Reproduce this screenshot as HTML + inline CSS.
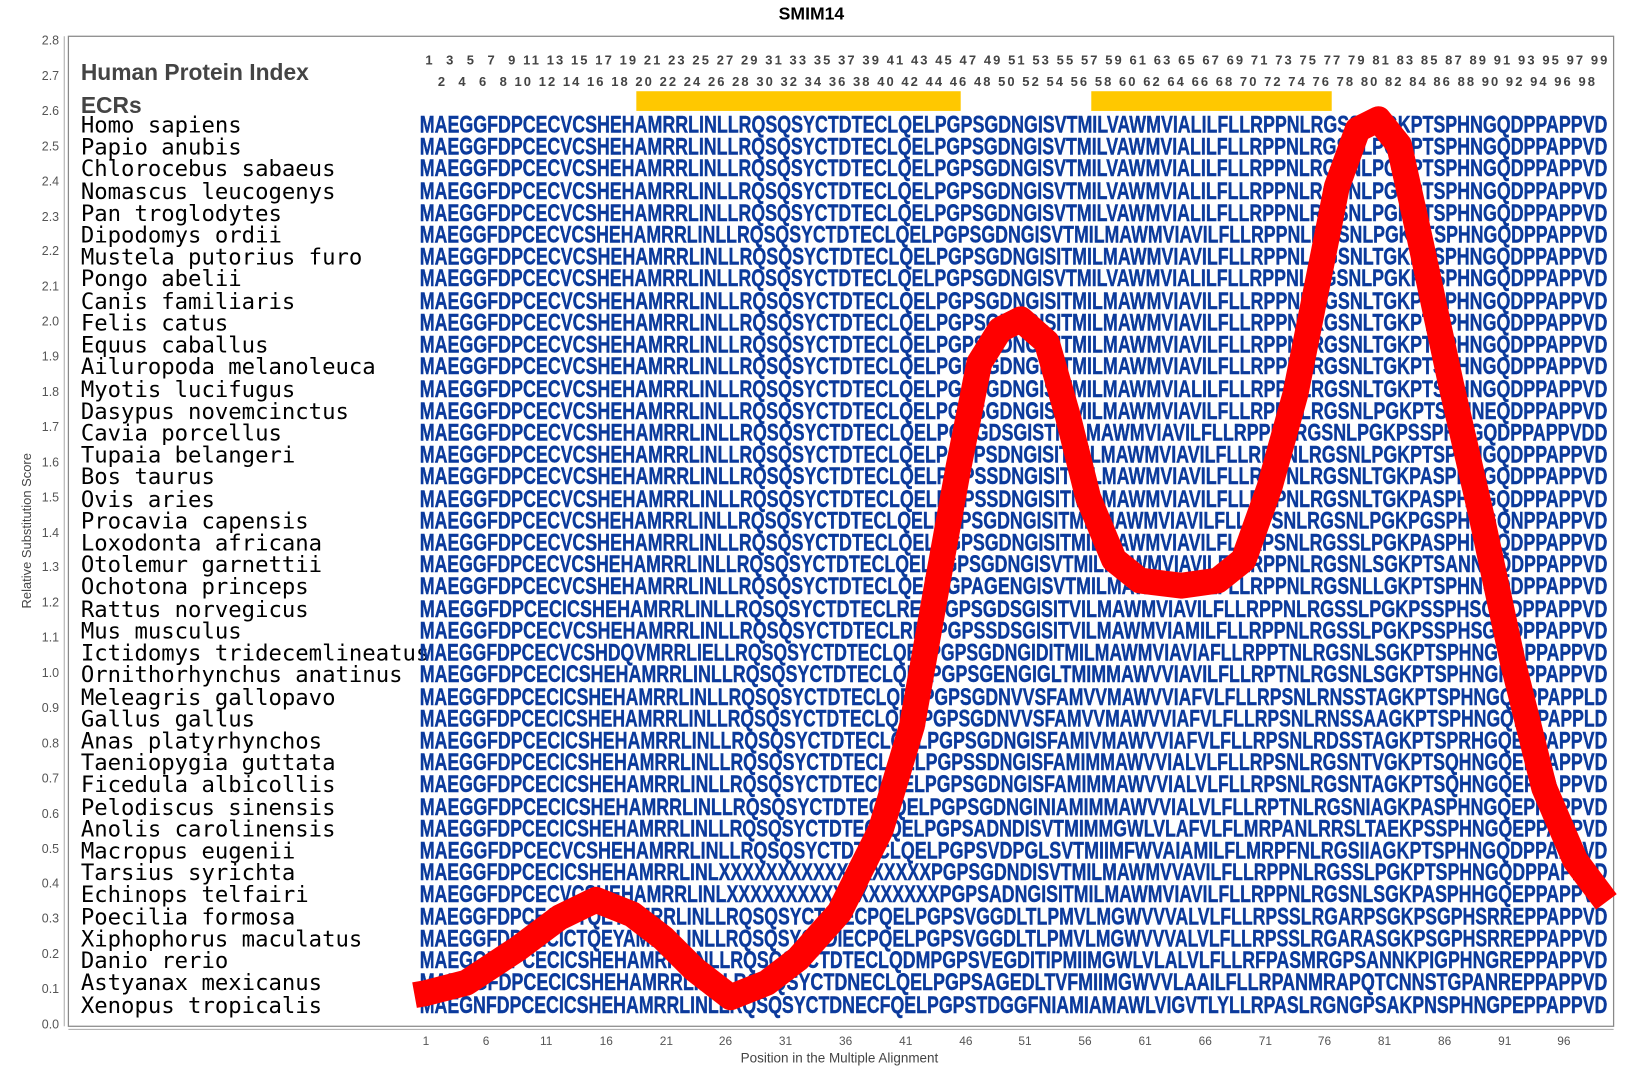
<!DOCTYPE html>
<html><head><meta charset="utf-8"><style>html,body{margin:0;padding:0;background:#fff}svg{display:block}</style></head><body>
<svg width="1625" height="1075" viewBox="0 0 1568 1037" preserveAspectRatio="none" xmlns="http://www.w3.org/2000/svg">
<rect width="1568" height="1037" fill="#fff"/>
<text x="783" y="19" font-family="Liberation Sans, sans-serif" font-weight="bold" font-size="17" text-anchor="middle" fill="#000">SMIM14</text>
<rect x="66" y="35" width="1491" height="955" fill="none" stroke="#888" stroke-width="1.2"/>
<line x1="62" y1="35" x2="62" y2="990" stroke="#aaa"/>
<line x1="66" y1="993" x2="1557" y2="993" stroke="#aaa"/>
<g font-family="Liberation Sans, sans-serif" font-size="12" fill="#555" text-anchor="end">
<text x="57" y="992">0.0</text><text x="57" y="958">0.1</text><text x="57" y="924">0.2</text><text x="57" y="890">0.3</text><text x="57" y="856">0.4</text><text x="57" y="823">0.5</text><text x="57" y="789">0.6</text><text x="57" y="755">0.7</text><text x="57" y="721">0.8</text><text x="57" y="687">0.9</text><text x="57" y="653">1.0</text><text x="57" y="619">1.1</text><text x="57" y="585">1.2</text><text x="57" y="551">1.3</text><text x="57" y="518">1.4</text><text x="57" y="484">1.5</text><text x="57" y="450">1.6</text><text x="57" y="416">1.7</text><text x="57" y="382">1.8</text><text x="57" y="348">1.9</text><text x="57" y="314">2.0</text><text x="57" y="280">2.1</text><text x="57" y="246">2.2</text><text x="57" y="213">2.3</text><text x="57" y="179">2.4</text><text x="57" y="145">2.5</text><text x="57" y="111">2.6</text><text x="57" y="77">2.7</text><text x="57" y="43">2.8</text>
</g>
<text transform="translate(30,512) rotate(-90)" font-family="Liberation Sans, sans-serif" font-size="12.5" fill="#444" text-anchor="middle">Relative Substitution Score</text>
<g font-family="Liberation Sans, sans-serif" font-size="11.5" fill="#555" text-anchor="middle">
<text x="411" y="1008">1</text><text x="469" y="1008">6</text><text x="527" y="1008">11</text><text x="585" y="1008">16</text><text x="643" y="1008">21</text><text x="700" y="1008">26</text><text x="758" y="1008">31</text><text x="816" y="1008">36</text><text x="874" y="1008">41</text><text x="932" y="1008">46</text><text x="989" y="1008">51</text><text x="1047" y="1008">56</text><text x="1105" y="1008">61</text><text x="1163" y="1008">66</text><text x="1221" y="1008">71</text><text x="1278" y="1008">76</text><text x="1336" y="1008">81</text><text x="1394" y="1008">86</text><text x="1452" y="1008">91</text><text x="1509" y="1008">96</text>
</g>
<text x="810" y="1025" font-family="Liberation Sans, sans-serif" font-size="13" fill="#444" text-anchor="middle">Position in the Multiple Alignment</text>
<g font-family="Liberation Sans, sans-serif" font-weight="bold" font-size="22" fill="#444">
<text x="78" y="77">Human Protein Index</text><text x="78" y="109">ECRs</text></g>
<g font-family="Liberation Sans, sans-serif" font-weight="bold" font-size="12.5" fill="#444">
<text x="405" y="62" textLength="1146" lengthAdjust="spacing" xml:space="preserve">&#160;1&#160;&#160;3&#160;&#160;5&#160;&#160;7&#160;&#160;9&#160;11&#160;13&#160;15&#160;17&#160;19&#160;21&#160;23&#160;25&#160;27&#160;29&#160;31&#160;33&#160;35&#160;37&#160;39&#160;41&#160;43&#160;45&#160;47&#160;49&#160;51&#160;53&#160;55&#160;57&#160;59&#160;61&#160;63&#160;65&#160;67&#160;69&#160;71&#160;73&#160;75&#160;77&#160;79&#160;81&#160;83&#160;85&#160;87&#160;89&#160;91&#160;93&#160;95&#160;97&#160;99</text>
<text x="417" y="83" textLength="1122" lengthAdjust="spacing" xml:space="preserve">&#160;2&#160;&#160;4&#160;&#160;6&#160;&#160;8&#160;10&#160;12&#160;14&#160;16&#160;18&#160;20&#160;22&#160;24&#160;26&#160;28&#160;30&#160;32&#160;34&#160;36&#160;38&#160;40&#160;42&#160;44&#160;46&#160;48&#160;50&#160;52&#160;54&#160;56&#160;58&#160;60&#160;62&#160;64&#160;66&#160;68&#160;70&#160;72&#160;74&#160;76&#160;78&#160;80&#160;82&#160;84&#160;86&#160;88&#160;90&#160;92&#160;94&#160;96&#160;98</text>
</g>
<rect x="614" y="88" width="313" height="19" fill="#ffc800"/>
<rect x="1053" y="88" width="232" height="19" fill="#ffc800"/>
<g font-family="DejaVu Sans Mono, Liberation Mono, monospace" font-size="21.5" fill="#000">
<text x="78" y="128">Homo sapiens</text><text x="78" y="149">Papio anubis</text><text x="78" y="170">Chlorocebus sabaeus</text><text x="78" y="192">Nomascus leucogenys</text><text x="78" y="213">Pan troglodytes</text><text x="78" y="234">Dipodomys ordii</text><text x="78" y="255">Mustela putorius furo</text><text x="78" y="276">Pongo abelii</text><text x="78" y="298">Canis familiaris</text><text x="78" y="319">Felis catus</text><text x="78" y="340">Equus caballus</text><text x="78" y="361">Ailuropoda melanoleuca</text><text x="78" y="383">Myotis lucifugus</text><text x="78" y="404">Dasypus novemcinctus</text><text x="78" y="425">Cavia porcellus</text><text x="78" y="446">Tupaia belangeri</text><text x="78" y="467">Bos taurus</text><text x="78" y="489">Ovis aries</text><text x="78" y="510">Procavia capensis</text><text x="78" y="531">Loxodonta africana</text><text x="78" y="552">Otolemur garnettii</text><text x="78" y="573">Ochotona princeps</text><text x="78" y="595">Rattus norvegicus</text><text x="78" y="616">Mus musculus</text><text x="78" y="637">Ictidomys tridecemlineatus</text><text x="78" y="658">Ornithorhynchus anatinus</text><text x="78" y="680">Meleagris gallopavo</text><text x="78" y="701">Gallus gallus</text><text x="78" y="722">Anas platyrhynchos</text><text x="78" y="743">Taeniopygia guttata</text><text x="78" y="764">Ficedula albicollis</text><text x="78" y="786">Pelodiscus sinensis</text><text x="78" y="807">Anolis carolinensis</text><text x="78" y="828">Macropus eugenii</text><text x="78" y="849">Tarsius syrichta</text><text x="78" y="870">Echinops telfairi</text><text x="78" y="892">Poecilia formosa</text><text x="78" y="913">Xiphophorus maculatus</text><text x="78" y="934">Danio rerio</text><text x="78" y="955">Astyanax mexicanus</text><text x="78" y="977">Xenopus tropicalis</text>
</g>
<g font-family="Liberation Sans, sans-serif" font-weight="bold" font-size="23" fill="#0b3a9c" stroke="#0b3a9c" stroke-width="0.4">
<text x="405" y="128" textLength="1146" lengthAdjust="spacingAndGlyphs">MAEGGFDPCECVCSHEHAMRRLINLLRQSQSYCTDTECLQELPGPSGDNGISVTMILVAWMVIALILFLLRPPNLRGSSLPGKPTSPHNGQDPPAPPVD</text>
<text x="405" y="149" textLength="1146" lengthAdjust="spacingAndGlyphs">MAEGGFDPCECVCSHEHAMRRLINLLRQSQSYCTDTECLQELPGPSGDNGISVTMILVAWMVIALILFLLRPPNLRGSNLPGKPTSPHNGQDPPAPPVD</text>
<text x="405" y="170" textLength="1146" lengthAdjust="spacingAndGlyphs">MAEGGFDPCECVCSHEHAMRRLINLLRQSQSYCTDTECLQELPGPSGDNGISVTMILVAWMVIALILFLLRPPNLRGSNLPGKPTSPHNGQDPPAPPVD</text>
<text x="405" y="192" textLength="1146" lengthAdjust="spacingAndGlyphs">MAEGGFDPCECVCSHEHAMRRLINLLRQSQSYCTDTECLQELPGPSGDNGISVTMILVAWMVIALILFLLRPPNLRGSNLPGKPTSPHNGQDPPAPPVD</text>
<text x="405" y="213" textLength="1146" lengthAdjust="spacingAndGlyphs">MAEGGFDPCECVCSHEHAMRRLINLLRQSQSYCTDTECLQELPGPSGDNGISVTMILVAWMVIALILFLLRPPNLRGSNLPGKPTSPHNGQDPPAPPVD</text>
<text x="405" y="234" textLength="1146" lengthAdjust="spacingAndGlyphs">MAEGGFDPCECVCSHEHAMRRLINLLRQSQSYCTDTECLQELPGPSGDNGISVTMILMAWMVIAVILFLLRPPNLRGSNLPGKPTSPHNGQDPPAPPVD</text>
<text x="405" y="255" textLength="1146" lengthAdjust="spacingAndGlyphs">MAEGGFDPCECVCSHEHAMRRLINLLRQSQSYCTDTECLQELPGPSGDNGISITMILMAWMVIAVILFLLRPPNLRGSNLTGKPTSPHNGQDPPAPPVD</text>
<text x="405" y="276" textLength="1146" lengthAdjust="spacingAndGlyphs">MAEGGFDPCECVCSHEHAMRRLINLLRQSQSYCTDTECLQELPGPSGDNGISVTMILVAWMVIALILFLLRPPNLRGSNLPGKPTSPHNGQDPPAPPVD</text>
<text x="405" y="298" textLength="1146" lengthAdjust="spacingAndGlyphs">MAEGGFDPCECVCSHEHAMRRLINLLRQSQSYCTDTECLQELPGPSGDNGISITMILMAWMVIAVILFLLRPPNLRGSNLTGKPTSPHNGQDPPAPPVD</text>
<text x="405" y="319" textLength="1146" lengthAdjust="spacingAndGlyphs">MAEGGFDPCECVCSHEHAMRRLINLLRQSQSYCTDTECLQELPGPSGDNGISITMILMAWMVIAVILFLLRPPNLRGSNLTGKPTSPHNGQDPPAPPVD</text>
<text x="405" y="340" textLength="1146" lengthAdjust="spacingAndGlyphs">MAEGGFDPCECVCSHEHAMRRLINLLRQSQSYCTDTECLQELPGPSGDNGISITMILMAWMVIAVILFLLRPPNLRGSNLTGKPTSPHNGQDPPAPPVD</text>
<text x="405" y="361" textLength="1146" lengthAdjust="spacingAndGlyphs">MAEGGFDPCECVCSHEHAMRRLINLLRQSQSYCTDTECLQELPGPSGDNGISITMILMAWMVIAVILFLLRPPNLRGSNLTGKPTSPHNGQDPPAPPVD</text>
<text x="405" y="383" textLength="1146" lengthAdjust="spacingAndGlyphs">MAEGGFDPCECVCSHEHAMRRLINLLRQSQSYCTDTECLQELPGPSGDNGISITMILMAWMVIALILFLLRPPNLRGSNLTGKPTSPHNGQDPPAPPVD</text>
<text x="405" y="404" textLength="1146" lengthAdjust="spacingAndGlyphs">MAEGGFDPCECVCSHEHAMRRLINLLRQSQSYCTDTECLQELPGPSGDNGISITMILMAWMVIAVILFLLRPPNLRGSNLPGKPTSPHNEQDPPAPPVD</text>
<text x="405" y="425" textLength="1146" lengthAdjust="spacingAndGlyphs">MAEGGFDPCECVCSHEHAMRRLINLLRQSQSYCTDTECLQELPGSGDSGISTMILMAWMVIAVILFLLRPPNLRGSNLPGKPSSPHNGQDPPAPPVDD</text>
<text x="405" y="446" textLength="1146" lengthAdjust="spacingAndGlyphs">MAEGGFDPCECVCSHEHAMRRLINLLRQSQSYCTDTECLQELPGPPSDNGISITMILMAWMVIAVILFLLRPPNLRGSNLPGKPTSPHNGQDPPAPPVD</text>
<text x="405" y="467" textLength="1146" lengthAdjust="spacingAndGlyphs">MAEGGFDPCECVCSHEHAMRRLINLLRQSQSYCTDTECLQELPGPSSDNGISITMILMAWMVIAVILFLLRPPNLRGSNLTGKPASPHNGQDPPAPPVD</text>
<text x="405" y="489" textLength="1146" lengthAdjust="spacingAndGlyphs">MAEGGFDPCECVCSHEHAMRRLINLLRQSQSYCTDTECLQELPGPSSDNGISITMILMAWMVIAVILFLLRPPNLRGSNLTGKPASPHNGQDPPAPPVD</text>
<text x="405" y="510" textLength="1146" lengthAdjust="spacingAndGlyphs">MAEGGFDPCECVCSHEHAMRRLINLLRQSQSYCTDTECLQELPGPSGDNGISITMILMAWMVIAVILFLLRPSNLRGSNLPGKPGSPHNGQNPPAPPVD</text>
<text x="405" y="531" textLength="1146" lengthAdjust="spacingAndGlyphs">MAEGGFDPCECVCSHEHAMRRLINLLRQSQSYCTDTECLQELPGPSGDNGISITMILMAWMVIAVILFLLRPSNLRGSSLPGKPASPHNGQDPPAPPVD</text>
<text x="405" y="552" textLength="1146" lengthAdjust="spacingAndGlyphs">MAEGGFDPCECVCSHEHAMRRLINLLRQSQSYCTDTECLQELPGPSGDNGISVTMILMAWMVIAVILFLLRPPNLRGSNLSGKPTSANNGQDPPAPPVD</text>
<text x="405" y="573" textLength="1146" lengthAdjust="spacingAndGlyphs">MAEGGFDPCECVCSHEHAMRRLINLLRQSQSYCTDTECLQELPGPAGENGISVTMILMAWVLIAVILFLLRPPNLRGSNLLGKPTSPHNGQDPPAPPVD</text>
<text x="405" y="595" textLength="1146" lengthAdjust="spacingAndGlyphs">MAEGGFDPCECICSHEHAMRRLINLLRQSQSYCTDTECLRELPGPSGDSGISITVILMAWMVIAVILFLLRPPNLRGSSLPGKPSSPHSGQDPPAPPVD</text>
<text x="405" y="616" textLength="1146" lengthAdjust="spacingAndGlyphs">MAEGGFDPCECVCSHEHAMRRLINLLRQSQSYCTDTECLRELPGPSSDSGISITVILMAWMVIAMILFLLRPPNLRGSSLPGKPSSPHSGQDPPAPPVD</text>
<text x="405" y="637" textLength="1146" lengthAdjust="spacingAndGlyphs">MAEGGFDPCECVCSHDQVMRRLIELLRQSQSYCTDTECLQELPGPSGDNGIDITMILMAWMVIAVIAFLLRPPTNLRGSNLSGKPTSPHNGQDPPAPPVD</text>
<text x="405" y="658" textLength="1146" lengthAdjust="spacingAndGlyphs">MAEGGFDPCECICSHEHAMRRLINLLRQSQSYCTDTECLQELPGPSGENGIGLTMIMMAWVVIAVILFLLRPTNLRGSNLSGKPTSPHNGHEPPAPPVD</text>
<text x="405" y="680" textLength="1146" lengthAdjust="spacingAndGlyphs">MAEGGFDPCECICSHEHAMRRLINLLRQSQSYCTDTECLQELPGPSGDNVVSFAMVVMAWVVIAFVLFLLRPSNLRNSSTAGKPTSPHNGQEPPAPPLD</text>
<text x="405" y="701" textLength="1146" lengthAdjust="spacingAndGlyphs">MAEGGFDPCECICSHEHAMRRLINLLRQSQSYCTDTECLQELPGPSGDNVVSFAMVVMAWVVIAFVLFLLRPSNLRNSSAAGKPTSPHNGQEPPAPPLD</text>
<text x="405" y="722" textLength="1146" lengthAdjust="spacingAndGlyphs">MAEGGFDPCECICSHEHAMRRLINLLRQSQSYCTDTECLQELPGPSGDNGISFAMIVMAWVVIAFVLFLLRPSNLRDSSTAGKPTSPRHGQEPPAPPVD</text>
<text x="405" y="743" textLength="1146" lengthAdjust="spacingAndGlyphs">MAEGGFDPCECICSHEHAMRRLINLLRQSQSYCTDTECLQELPGPSSDNGISFAMIMMAWVVIALVLFLLRPSNLRGSNTVGKPTSQHNGQEPPAPPVD</text>
<text x="405" y="764" textLength="1146" lengthAdjust="spacingAndGlyphs">MAEGGFDPCECICSHEHAMRRLINLLRQSQSYCTDTECLQELPGPSGDNGISFAMIMMAWVVIALVLFLLRPSNLRGSNTAGKPTSQHNGQEPPAPPVD</text>
<text x="405" y="786" textLength="1146" lengthAdjust="spacingAndGlyphs">MAEGGFDPCECICSHEHAMRRLINLLRQSQSYCTDTECFQELPGPSGDNGINIAMIMMAWVVIALVLFLLRPTNLRGSNIAGKPASPHNGQEPPAPPVD</text>
<text x="405" y="807" textLength="1146" lengthAdjust="spacingAndGlyphs">MAEGGFDPCECICSHEHAMRRLINLLRQSQSYCTDTECLQELPGPSADNDISVTMIMMGWLVLAFVLFLMRPANLRRSLTAEKPSSPHNGQEPPAPPVD</text>
<text x="405" y="828" textLength="1146" lengthAdjust="spacingAndGlyphs">MAEGGFDPCECVCSHEHAMRRLINLLRQSQSYCTDTECLQELPGPSVDPGLSVTMIIMFWVAIAMILFLMRPFNLRGSIIAGKPTSPHNGQDPPAPPVD</text>
<text x="405" y="849" textLength="1146" lengthAdjust="spacingAndGlyphs">MAEGGFDPCECICSHEHAMRRLINLXXXXXXXXXXXXXXXXXXPGPSGDNDISVTMILMAWMVVAVILFLLRPPNLRGSSLPGKPTSPHNGQDPPAPPLD</text>
<text x="405" y="870" textLength="1146" lengthAdjust="spacingAndGlyphs">MAEGGFDPCECVCSHEHAMRRLINLXXXXXXXXXXXXXXXXXXPGPSADNGISITMILMAWMVIAVILFLLRPPNLRGSNLSGKPASPHHGQEPPAPPVD</text>
<text x="405" y="892" textLength="1146" lengthAdjust="spacingAndGlyphs">MAEGGFDPCECICTQEYAMRRLINLLRQSQSYCTDIECPQELPGPSVGGDLTLPMVLMGWVVVALVLFLLRPSSLRGARPSGKPSGPHSRREPPAPPVD</text>
<text x="405" y="913" textLength="1146" lengthAdjust="spacingAndGlyphs">MAEGGFDPCECICTQEYAMRRLINLLRQSQSYCTDIECPQELPGPSVGGDLTLPMVLMGWVVVALVLFLLRPSSLRGARASGKPSGPHSRREPPAPPVD</text>
<text x="405" y="934" textLength="1146" lengthAdjust="spacingAndGlyphs">MAEGGFDPCECICSHEHAMRRLINLLRQSQSYCTDTECLQDMPGPSVEGDITIPMIIMGWLVLALVLFLLRFPASMRGPSANNKPIGPHNGREPPAPPVD</text>
<text x="405" y="955" textLength="1146" lengthAdjust="spacingAndGlyphs">MAEGGFDPCECICSHEHAMRRLINLLRQSQSYCTDNECLQELPGPSAGEDLTVFMIIMGWVVLAAILFLLRPANMRAPQTCNNSTGPANREPPAPPVD</text>
<text x="405" y="977" textLength="1146" lengthAdjust="spacingAndGlyphs">MAEGNFDPCECICSHEHAMRRLINLLRQSQSYCTDNECFQELPGPSTDGGFNIAMIAMAWLVIGVTLYLLRPASLRGNGPSAKPNSPHNGPEPPAPPVD</text>
</g>
<polyline fill="none" stroke="#ff0000" stroke-width="25" stroke-linejoin="round" points="400,960 411,958 450,948 500,915 540,885 575,868 610,882 640,905 670,935 705,962 740,948 770,925 810,880 850,800 880,700 905,560 925,450 945,350 965,318 985,308 1010,330 1030,400 1050,480 1075,540 1100,560 1140,565 1175,560 1200,540 1225,470 1250,380 1270,280 1290,180 1310,125 1330,115 1350,140 1370,230 1400,370 1430,500 1460,640 1490,760 1520,830 1550,870"/>
</svg>
</body></html>
